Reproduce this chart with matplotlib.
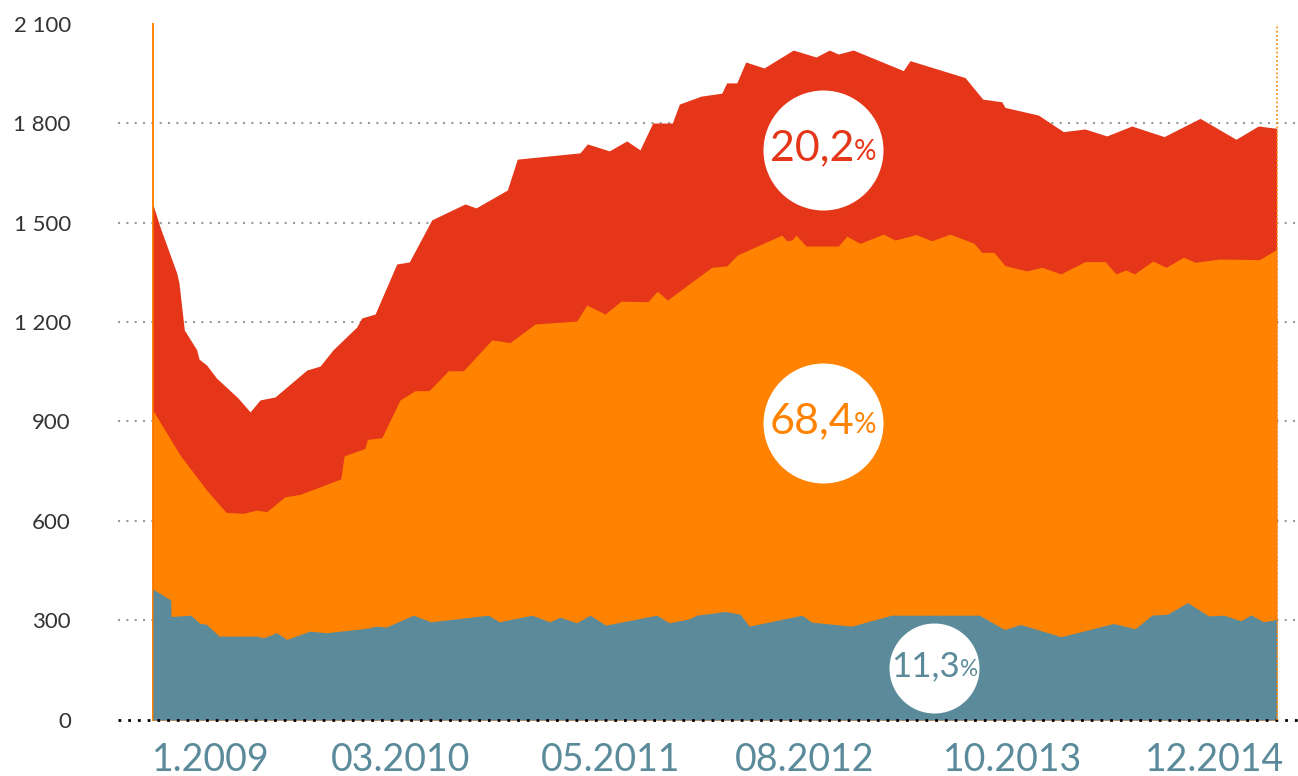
import matplotlib.pyplot as plt
from matplotlib.offsetbox import TextArea, HPacker, AnnotationBbox

# x = months counted from the first observation (about 09.2008)
total_x = [0, 0.49, 1.64, 1.80, 2.17, 3.03, 3.19, 3.72, 4.40, 5.89, 6.73, 7.42, 8.46,
           10.66, 11.58, 12.48, 14.13, 14.47, 15.40, 16.90, 17.77, 19.33, 21.64, 22.40,
           24.57, 25.26, 29.61, 30.12, 31.64, 32.85, 33.77, 34.65, 36.01, 36.50, 38.00,
           39.44, 39.78, 40.48, 41.10, 42.37, 44.40, 45.98, 46.90, 47.52, 48.56, 52.03,
           52.50, 56.31, 57.54, 58.86, 59.08, 61.39, 63.13, 64.63, 66.14, 67.87, 70.11,
           72.61, 75.10, 76.65, 77.93]
total = [1553, 1486, 1348, 1318, 1176, 1116, 1088, 1070, 1031, 971, 929, 965, 974,
         1055, 1067, 1116, 1185, 1212, 1224, 1375, 1381, 1508, 1556, 1544,
         1598, 1691, 1710, 1737, 1716, 1746, 1719, 1800, 1800, 1857, 1881,
         1890, 1921, 1921, 1984, 1966, 2020, 1999, 2020, 2008, 2020, 1958,
         1988, 1937, 1872, 1864, 1847, 1824, 1774, 1782, 1761, 1791, 1759,
         1814, 1751, 1791, 1784]

# orange + blue (cumulative)
mid_x = [0, 1.87, 3.72, 5.06, 6.26, 7.19, 7.88, 9.15, 10.19, 13.02, 13.25, 14.70, 14.86,
         15.86, 17.13, 18.17, 19.14, 20.48, 21.52, 23.49, 24.76, 26.49, 29.38, 30.08,
         31.35, 32.45, 34.31, 34.97, 35.67, 38.74, 39.78, 40.52, 43.60, 43.95, 44.30,
         44.59, 45.29, 47.52, 48.11, 49.03, 50.64, 51.46, 52.91, 54.00, 55.27, 56.94,
         57.47, 58.32, 59.08, 60.59, 61.63, 62.95, 64.63, 66.02, 66.78, 67.46, 68.06,
         69.33, 70.25, 71.46, 72.26, 73.99, 76.72, 77.93]
mid_top = [933, 799, 693, 626, 623, 633, 628, 673, 680, 727, 796, 819, 846,
           851, 965, 993, 993, 1053, 1053, 1146, 1138, 1194, 1203, 1251,
           1224, 1263, 1261, 1293, 1266, 1365, 1369, 1402, 1462, 1445, 1447,
           1462, 1429, 1429, 1459, 1437, 1465, 1447, 1464, 1445, 1465, 1437,
           1410, 1410, 1370, 1354, 1365, 1345, 1382, 1382, 1345, 1357, 1345,
           1384, 1365, 1395, 1380, 1390, 1388, 1419]

low_x = [0, 1.22, 1.25, 2.61, 3.26, 3.68, 4.58, 7.19, 7.65, 8.58, 9.27, 10.89, 12.00,
         14.70, 15.51, 16.16, 18.05, 19.26, 23.25, 24.01, 26.26, 27.52, 28.22, 29.38,
         30.30, 31.39, 34.93, 35.80, 37.19, 37.70, 39.67, 40.71, 41.35, 44.99, 45.68,
         48.45, 51.22, 57.30, 59.04, 60.17, 62.97, 66.60, 68.10, 69.26, 70.34, 71.75,
         73.18, 74.27, 75.43, 76.14, 77.00, 77.93]
low = [394, 362, 312, 316, 291, 289, 253, 253, 248, 263, 243, 268, 263,
       276, 283, 280, 316, 296, 316, 296, 316, 296, 310, 293,
       316, 286, 316, 293, 305, 316, 327, 319, 283, 316, 295,
       283, 316, 316, 273, 288, 251, 291, 275, 316, 319, 354,
       314, 316, 299, 317, 296, 303]

tick_pos = [4.0, 17.2, 31.7, 45.2, 59.6, 73.6]
tick_labels = ['1.2009', '03.2010', '05.2011', '08.2012', '10.2013', '12.2014']
y_ticks = [0, 300, 600, 900, 1200, 1500, 1800, 2100]
y_labels = ['0', '300', '600', '900', '1 200', '1 500', '1 800', '2 100']

shares = ['20,2', '68,4', '11,3']
share_pos = [(46.46, 1718), (46.46, 895), (54.18, 158)]
share_size = [7465, 7465, 4199]
share_font = [31, 31, 25]

RED = '#e5361a'
ORANGE = '#ff8200'
BLUE = '#5b8b9b'

plt.rcParams['font.family'] = ['Lato', 'DejaVu Sans']

fig = plt.figure(figsize=(12.98, 7.76), dpi=100)
ax = fig.add_axes([0.0909, 0.0722, 0.9091, 0.8975])

for y in y_ticks[1:-1]:
    ax.axhline(y, color='#9a9a9a', lw=1.5, ls=(0, (1, 3)), zorder=1)
ax.axhline(0, color='black', lw=2, ls=(0, (1, 2.5)), zorder=6, clip_on=False)

ax.plot([0, 0], [0, 2100], color=ORANGE, lw=1.4, zorder=1.5, clip_on=False)
ax.plot([total_x[-1], total_x[-1]], [0, 2100], color=ORANGE, lw=1.2,
        ls=(0, (1, 1.5)), zorder=6, clip_on=False)

ax.fill_between(total_x, 0, total, color=RED, lw=0, zorder=2)
ax.fill_between(mid_x, 0, mid_top, color=ORANGE, lw=0, zorder=3)
ax.fill_between(low_x, 0, low, color=BLUE, lw=0, zorder=4)

colors = [RED, ORANGE, BLUE]
for txt, (x, y), s, fs, c in zip(shares, share_pos, share_size, share_font, colors):
    ax.scatter([x], [y], s=s, color='white', zorder=7, linewidths=0)
    box = HPacker(children=[
        TextArea(txt, textprops=dict(color=c, fontsize=fs)),
        TextArea('%', textprops=dict(color=c, fontsize=fs * 0.65))],
        align='baseline', pad=0, sep=0)
    ab = AnnotationBbox(box, (x, y), frameon=False, box_alignment=(0.5, 0.45),
                        zorder=8)
    ax.add_artist(ab)

ax.set_xlim(-2.43, 79.4)
ax.set_ylim(0, 2100)
ax.set_xticks(tick_pos)
ax.set_xticklabels(tick_labels, fontsize=27, color=BLUE)
ax.set_yticks(y_ticks)
ax.set_yticklabels(y_labels, fontsize=16, color='#333333')
ax.tick_params(axis='x', length=0, pad=16)
ax.tick_params(axis='y', length=0, pad=34)
for sp in ax.spines.values():
    sp.set_visible(False)

fig.savefig('out.png', dpi=100)
